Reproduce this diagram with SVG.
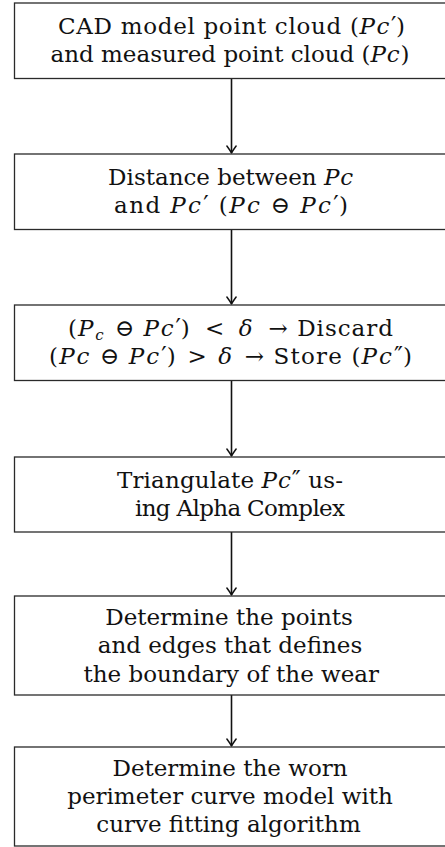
<svg xmlns="http://www.w3.org/2000/svg" width="445" height="847" viewBox="0 0 445 847">
<defs>
<style>
.box{fill:#fff;stroke:#2a2a2a;stroke-width:1.3}
.t{font-family:"DejaVu Serif","Liberation Serif",serif;font-size:23px;fill:#111;text-anchor:middle}
.m{font-style:italic;letter-spacing:0.8px}
.pr{font-size:24px}
.sub{font-size:15px;font-style:italic}
.edge{stroke:#111;stroke-width:1.6;fill:none}
</style>
<marker id="ah" viewBox="-9 -6 11 12" refX="0" refY="0" markerWidth="11" markerHeight="12" markerUnits="userSpaceOnUse" orient="auto">
<path d="M-7,-4.6 Q-2.5,-1.3 0,0 Q-2.5,1.3 -7,4.6" fill="none" stroke="#111" stroke-width="1.5" stroke-linecap="round" stroke-linejoin="round"/>
</marker>
</defs>
<rect width="445" height="847" fill="#fff"/>
<g id="connectors">
<line class="edge" x1="231.5" y1="78.5" x2="231.5" y2="153" marker-end="url(#ah)"/>
<line class="edge" x1="231.5" y1="229.5" x2="231.5" y2="304" marker-end="url(#ah)"/>
<line class="edge" x1="231.5" y1="380.5" x2="231.5" y2="456" marker-end="url(#ah)"/>
<line class="edge" x1="231.5" y1="532" x2="231.5" y2="595" marker-end="url(#ah)"/>
<line class="edge" x1="231.5" y1="695" x2="231.5" y2="746" marker-end="url(#ah)"/>
</g>
<g id="n1">
<rect class="box" x="14.5" y="3" width="434" height="75.5"/>
<text class="t" x="231.5" y="34" textLength="347" lengthAdjust="spacing">CAD model point cloud (<tspan class="m">Pc</tspan><tspan class="pr">′</tspan><tspan dx="-1">)</tspan></text>
<text class="t" x="230" y="62">and measured point cloud (<tspan class="m">Pc</tspan>)</text>
</g>
<g id="n2">
<rect class="box" x="14.5" y="154" width="434" height="75.5"/>
<text class="t" x="231" y="185">Distance between <tspan class="m">Pc</tspan></text>
<text class="t" x="231" y="213" textLength="234" lengthAdjust="spacing">and <tspan class="m">Pc</tspan><tspan class="pr">′</tspan> (<tspan class="m">Pc</tspan> ⊖ <tspan class="m">Pc</tspan><tspan class="pr">′</tspan><tspan dx="-1">)</tspan></text>
</g>
<g id="n3">
<rect class="box" x="14.5" y="305" width="434" height="75.5"/>
<text class="t" x="230.5" y="336" textLength="325" lengthAdjust="spacing">(<tspan class="m">P</tspan><tspan class="sub" dy="4">c</tspan><tspan dy="-4" dx="2"> ⊖ </tspan><tspan class="m">Pc</tspan><tspan class="pr">′</tspan><tspan dx="-1">)</tspan><tspan dx="6"> &lt; </tspan><tspan class="m" dx="5">δ</tspan><tspan dx="6"> → </tspan>Discard</text>
<text class="t" x="230.5" y="364" textLength="363" lengthAdjust="spacing">(<tspan class="m">Pc</tspan> ⊖ <tspan class="m">Pc</tspan><tspan class="pr">′</tspan><tspan dx="-1">)</tspan><tspan dx="2"> &gt; </tspan><tspan class="m" dx="2">δ</tspan><tspan dx="2"> → </tspan>Store (<tspan class="m">Pc</tspan><tspan class="pr">″</tspan><tspan dx="-1">)</tspan></text>
</g>
<g id="n4">
<rect class="box" x="14.5" y="457" width="434" height="75"/>
<text class="t" x="230" y="487.5" textLength="226" lengthAdjust="spacing">Triangulate <tspan class="m">Pc</tspan><tspan class="pr">″</tspan> us-</text>
<text class="t" x="240" y="516" textLength="210" lengthAdjust="spacing">ing Alpha Complex</text>
</g>
<g id="n5">
<rect class="box" x="14.5" y="596" width="434" height="99"/>
<text class="t" x="229" y="624.5">Determine the points</text>
<text class="t" x="230" y="653">and edges that defines</text>
<text class="t" x="231.3" y="681.5">the boundary of the wear</text>
</g>
<g id="n6">
<rect class="box" x="14.5" y="747" width="434" height="99"/>
<text class="t" x="230" y="775.5">Determine the worn</text>
<text class="t" x="230" y="803.5">perimeter curve model with</text>
<text class="t" x="228.5" y="831.5">curve fitting algorithm</text>
</g>
</svg>
